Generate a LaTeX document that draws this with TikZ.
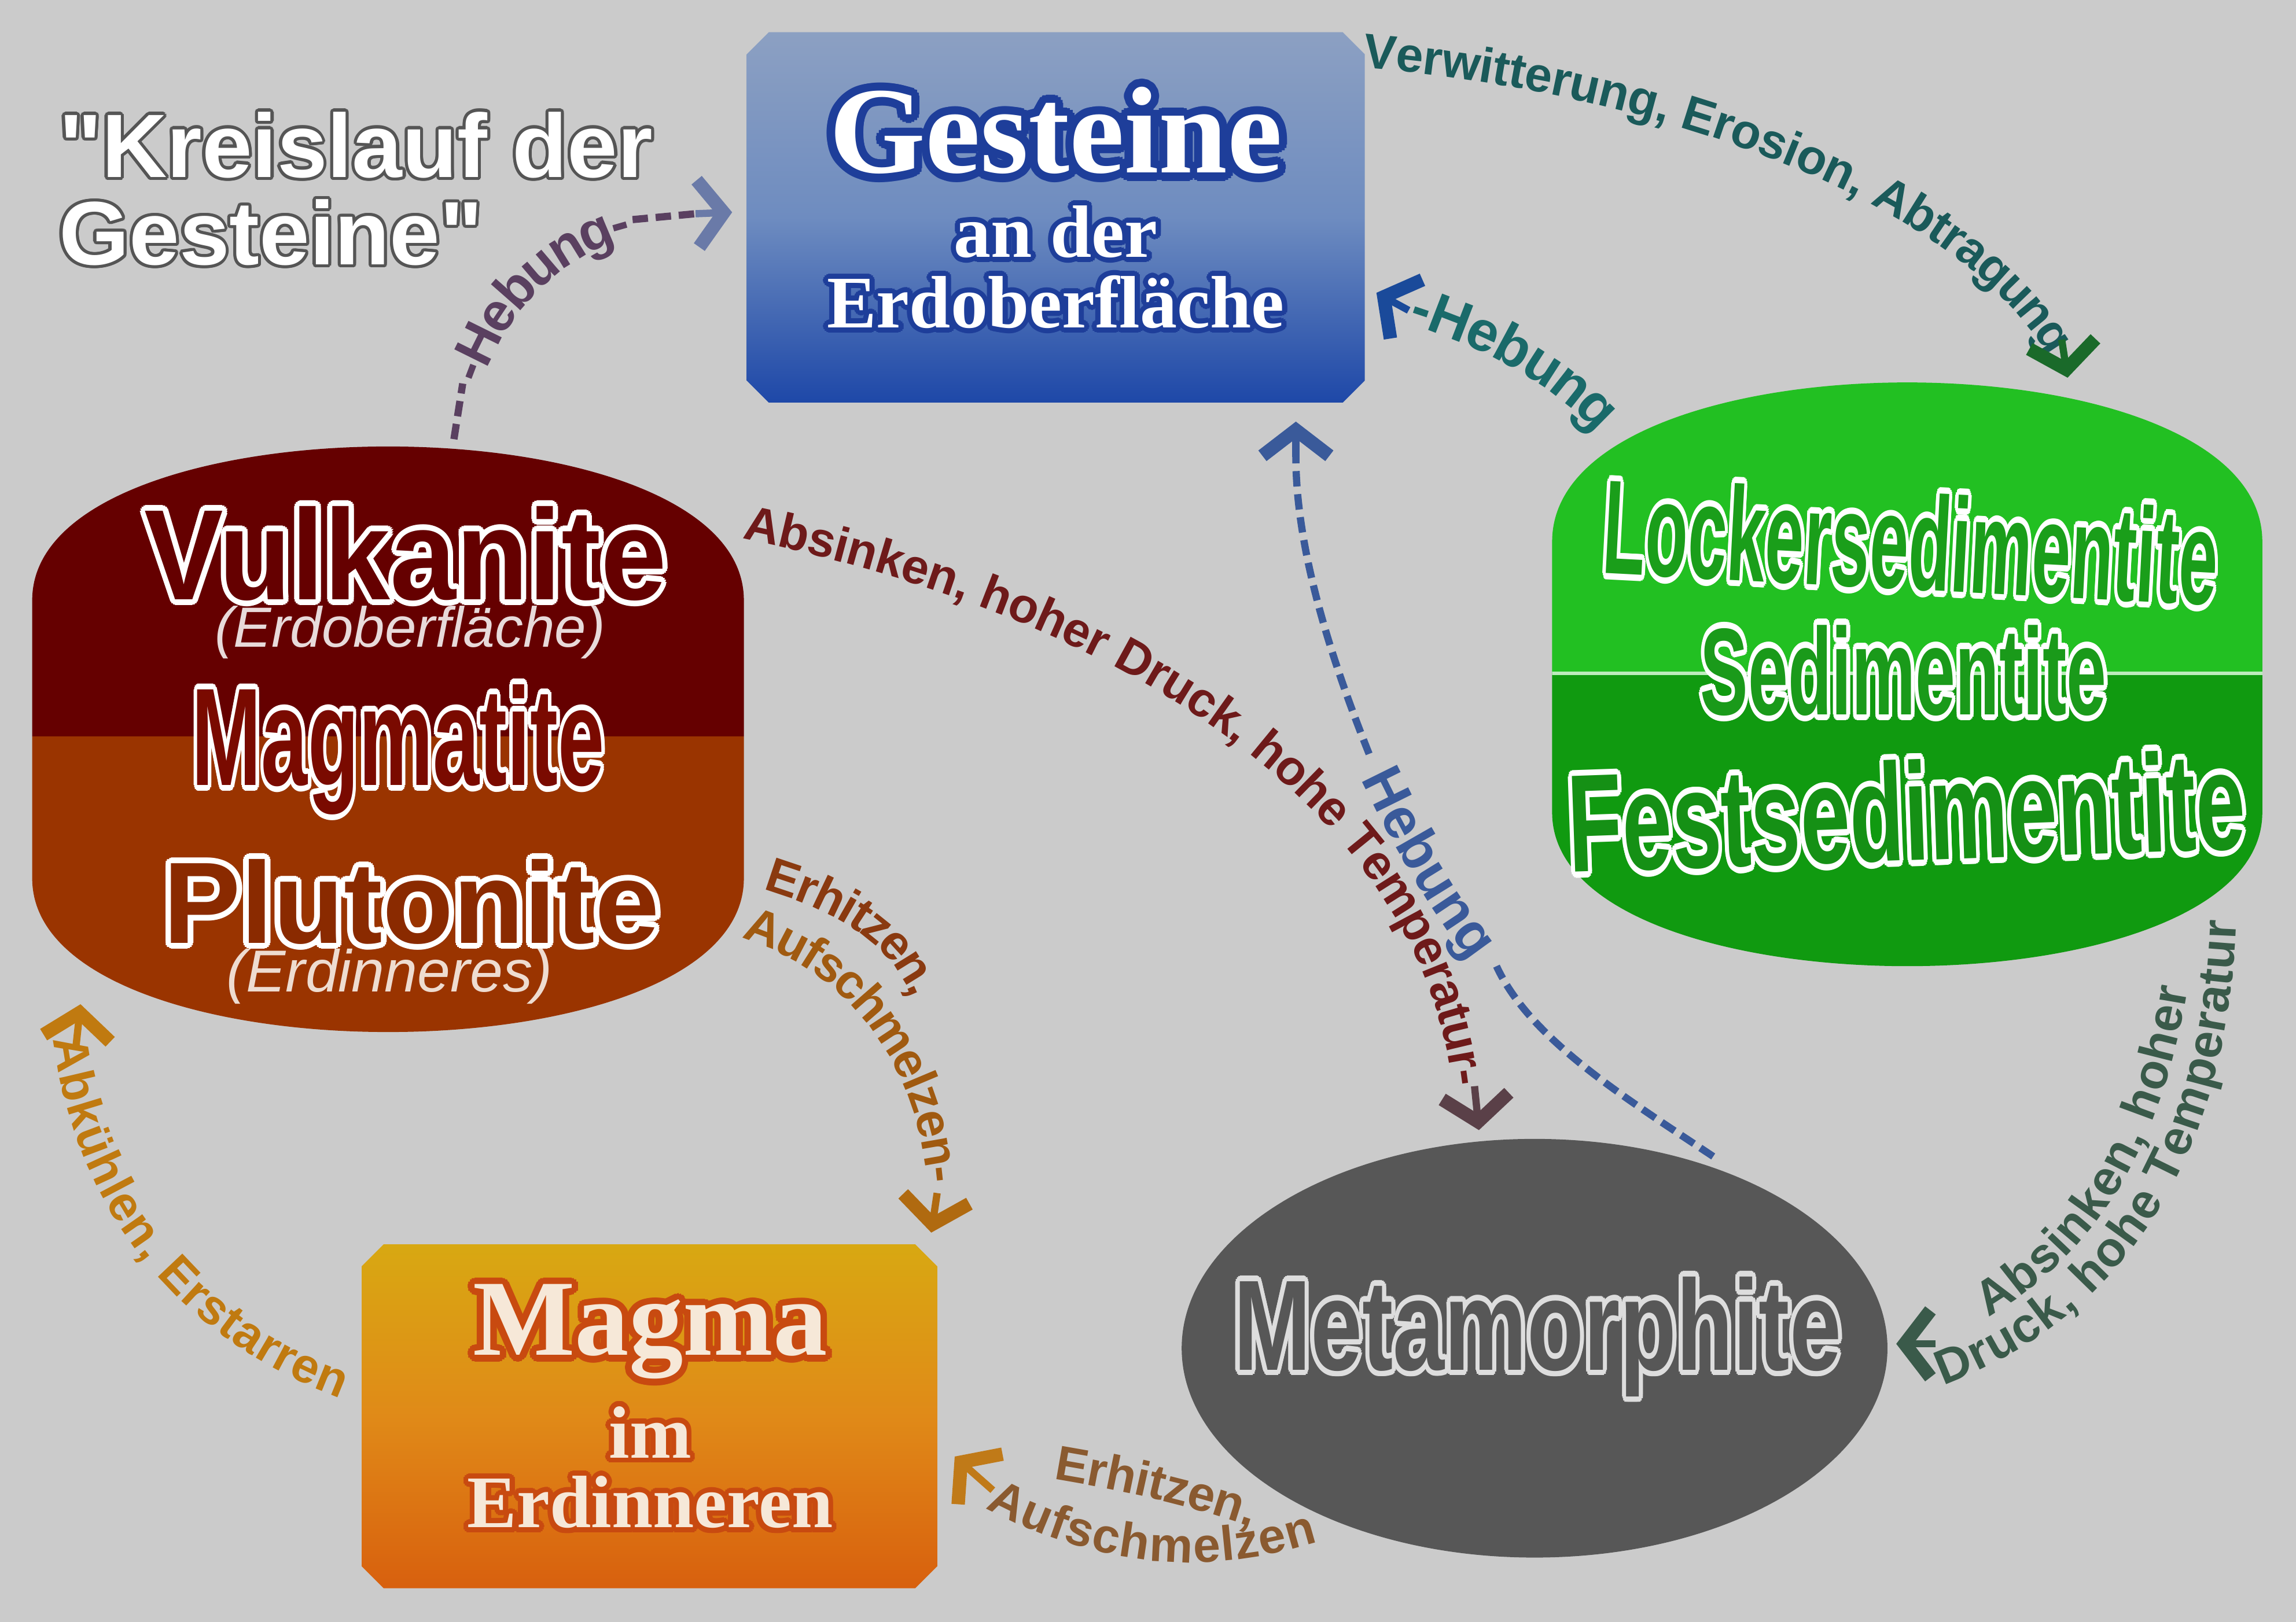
\documentclass[tikz,border=0pt]{standalone}
\usepackage{fontspec}
\setmainfont{Liberation Serif}
\setsansfont{Liberation Sans}
\newfontfamily\titlef{Liberation Sans}
\usepackage[copies]{contour}
\usetikzlibrary{arrows.meta,decorations.text}
\definecolor{bg}{HTML}{CBCBCB}
\definecolor{vred}{HTML}{650000}
\definecolor{pbrown}{HTML}{9A3400}
\definecolor{gtop}{HTML}{22C022}
\definecolor{gbot}{HTML}{109A10}
\definecolor{meta}{HTML}{575757}
\definecolor{cH1}{HTML}{5A4060}
\definecolor{cVer}{HTML}{1A5A5A}
\definecolor{cH3}{HTML}{1A6A6A}
\definecolor{cAbs}{HTML}{6E1A1A}
\definecolor{cH5}{HTML}{3A5A9A}
\definecolor{cAbs2}{HTML}{3A5A4A}
\definecolor{cErh}{HTML}{8A5A30}
\definecolor{cErh2}{HTML}{8A3A10}
\definecolor{cAbk}{HTML}{C07A10}
\definecolor{gbT}{HTML}{8CA0C2}
\definecolor{gbB}{HTML}{1E48A8}
\definecolor{gbM}{HTML}{6E8CC0}
\definecolor{gline}{HTML}{1E3E9A}
\definecolor{mag2}{HTML}{7A0A00}
\definecolor{plu}{HTML}{8A2A00}
\definecolor{itv}{HTML}{E8DADA}
\definecolor{itp}{HTML}{EEDCD0}
\definecolor{gL}{HTML}{1A9E1A}
\definecolor{gS}{HTML}{1A9A1A}
\definecolor{gF}{HTML}{159015}
\definecolor{lgray}{HTML}{DDDDDD}
\definecolor{mgT}{HTML}{D8A812}
\definecolor{mgB}{HTML}{D8600E}
\definecolor{mgM}{HTML}{E08A18}
\definecolor{mtxt}{HTML}{F6E8D8}
\definecolor{mline}{HTML}{C84A10}
\definecolor{hd1}{HTML}{6A7AA8}
\definecolor{hd2}{HTML}{1A6A2A}
\definecolor{hd3}{HTML}{1A4A9A}
\definecolor{hd4}{HTML}{5A4048}
\definecolor{hd7}{HTML}{C07A18}
\definecolor{cErh3}{HTML}{A05A10}
\definecolor{hd8}{HTML}{B06A10}
\definecolor{tshadow}{HTML}{555555}
\newcommand\lab{\sffamily\bfseries\fontsize{9.5}{10}\selectfont}
\tikzset{
 tip/.style={-{Straight Barb[length=5pt,width=13pt,line width=2.6pt]},line width=1.4pt},
 dsh/.style={line width=1.4pt,dash pattern=on 3pt off 1.5pt},
 txt/.style={decorate,decoration={text along path,text align=center,raise=-3.5pt,text format delimiters={|}{|},text={#1}}},
}
\begin{document}
\begin{tikzpicture}[x=0.01cm,y=-0.01cm]
\useasboundingbox (0,0) rectangle (1568,1108);
\fill[bg] (0,0) rectangle (1568,1108);

% title
\node[anchor=north west,align=left,font=\titlef\bfseries\fontsize{17.5}{17}\selectfont,text=white] (title) at (28,64) {\contourlength{0.6pt}\contour{tshadow}{"Kreislauf der}\\\contourlength{0.6pt}\contour{tshadow}{Gesteine"}};

% Gesteine box
\shade[top color=gbT,bottom color=gbB,middle color=gbM] (525,22) -- (917,22) -- (932,37) -- (932,260) -- (917,275) -- (525,275) -- (510,260) -- (510,37) -- cycle;
\node[font=\bfseries\fontsize{24}{24}\selectfont,text=white] (g1) at (721,92) {\contourlength{1.6pt}\contour{gline}{Gesteine}};
\node[font=\bfseries\fontsize{14.4}{14}\selectfont,text=white] (g2) at (721,160) {\contourlength{1pt}\contour{gline}{an der}};
\node[font=\bfseries\fontsize{14.4}{14}\selectfont,text=white] (g3) at (721,208) {\contourlength{1pt}\contour{gline}{Erdoberfläche}};

% Magmatite shape
\begin{scope}
\clip (22,410) .. controls (22,270) and (508,270) .. (508,410) -- (508,600) .. controls (508,740) and (22,740) .. (22,600) -- cycle;
\fill[vred] (0,0) rectangle (600,503);
\fill[pbrown] (0,503) rectangle (600,800);
\end{scope}
\node[font=\sffamily\bfseries\fontsize{25}{25}\selectfont,text=vred] (vul) at (277,380) {\scalebox{0.92}[1]{\contourlength{1.1pt}\contour{white}{Vulkanite}}};
\node[font=\sffamily\itshape\fontsize{11}{11}\selectfont,text=itv] (vul2) at (280,432) {(Erdoberfläche)};
\node[font=\sffamily\bfseries\fontsize{27}{27}\selectfont,text=mag2] (mag) at (272,514) {\scalebox{0.6}[1]{\contourlength{1.1pt}\contour{white}{Magmatite}}};
\node[font=\sffamily\bfseries\fontsize{22.5}{22}\selectfont,text=plu] (plu) at (281,618) {\contourlength{1.1pt}\contour{white}{Plutonite}};
\node[font=\sffamily\itshape\fontsize{11.5}{11}\selectfont,text=itp] (plu2) at (266,667) {(Erdinneres)};

% Sediment shape
\begin{scope}
\clip (1060,370) .. controls (1060,225) and (1545,225) .. (1545,370) -- (1545,555) .. controls (1545,695) and (1060,695) .. (1060,555) -- cycle;
\fill[gtop] (1000,200) rectangle (1600,460);
\fill[gbot] (1000,460) rectangle (1600,700);
\draw[white!70!gtop,line width=0.6pt] (1000,460) -- (1600,460);
\end{scope}
\node[font=\sffamily\bfseries\fontsize{26}{26}\selectfont,text=gL,rotate=-3] (lock) at (1305,372) {\scalebox{0.52}[1]{\contourlength{1.2pt}\contour{white}{Lockersedimentite}}};
\node[font=\sffamily\bfseries\fontsize{24}{24}\selectfont,text=gS] (sed) at (1300,460) {\scalebox{0.58}[1]{\contourlength{1.2pt}\contour{white}{Sedimentite}}};
\node[font=\sffamily\bfseries\fontsize{27}{27}\selectfont,text=gF,rotate=2] (fest) at (1302,556) {\scalebox{0.64}[1]{\contourlength{1.2pt}\contour{white}{Festsedimentite}}};

% Metamorphite
\fill[meta] (1048,921) ellipse [x radius=241,y radius=143];
\node[font=\sffamily\bfseries\fontsize{25}{25}\selectfont,text=meta] (met) at (1050,915) {\scalebox{0.72}[1]{\contourlength{1.1pt}\contour{lgray}{Metamorphite}}};

% Magma box
\shade[top color=mgT,bottom color=mgB,middle color=mgM] (262,850) -- (625,850) -- (640,865) -- (640,1070) -- (625,1085) -- (262,1085) -- (247,1070) -- (247,865) -- cycle;
\node[font=\bfseries\fontsize{21}{21}\selectfont,text=mtxt] (m1) at (444,912) {\contourlength{1.3pt}\contour{mline}{Magma}};
\node[font=\bfseries\fontsize{14.4}{14}\selectfont,text=mtxt] (m2) at (444,980) {\contourlength{1pt}\contour{mline}{im}};
\node[font=\bfseries\fontsize{14.4}{14}\selectfont,text=mtxt] (m3) at (444,1028) {\contourlength{1pt}\contour{mline}{Erdinneren}};

% ---- connectors ----
% 1 Hebung (left)
\coordinate (a1) at (310,300); \coordinate (a1b) at (316,262); \coordinate (a1c) at (432,150); \coordinate (a1m) at (475,146); \coordinate (a1d) at (500,145);
\draw[dsh,cH1] (a1) -- (a1b);
\path[txt={|\lab\fontsize{10.5}{11}\selectfont\color{cH1}|-Hebung-}] (a1b) .. controls (338,195) and (385,160) .. (a1c);
\draw[dsh,cH1] (a1c) -- (a1m);
\draw[tip,hd1] (a1m) -- (a1d);

% 2 Verwitterung
\coordinate (a2) at (945,35); \coordinate (a2m) at (1408,232); \coordinate (a2e) at (1412,258);
\path[txt={|\lab\color{cVer}|Verwitterung, Erosion, Abtragung-}] (a2) .. controls (1150,55) and (1345,130) .. (1408,235);
\draw[tip,hd2] (a2m) -- (a2e);

% 3 Hebung teal
\coordinate (a3) at (940,200); \coordinate (a3m) at (962,212); \coordinate (a3e) at (1108,298);
\draw[tip,hd3] (a3m) -- (a3);
\path[txt={|\lab\fontsize{11}{11}\selectfont\color{cH3}|-Hebung}] (952,205) .. controls (1020,225) and (1075,255) .. (a3e);

% 4 Absinken (long)
\coordinate (a4) at (505,355); \coordinate (a4m) at (1007,742); \coordinate (a4e) at (1010,772);
\path[txt={|\lab\color{cAbs}|Absinken, hoher Druck, hohe Temperatur-}] (a4) .. controls (800,415) and (985,560) .. (1005,745);
\draw[tip,hd4] (a4m) -- (a4e);

% 5 Hebung blue
\coordinate (a5) at (1170,790); \coordinate (a5b) at (1022,660); \coordinate (a5c) at (935,515); \coordinate (a5m) at (885,312); \coordinate (a5e) at (885,288);
\draw[dsh,cH5] (a5) .. controls (1110,750) and (1045,710) .. (a5b);
\path[txt={|\lab\fontsize{11}{11}\selectfont\color{cH5}|Hebung}] (a5c) .. controls (960,570) and (990,620) .. (a5b);
\draw[dsh,cH5] (a5c) .. controls (905,440) and (885,370) .. (a5m);
\draw[tip,cH5] (a5m) -- (a5e);

% 6 Absinken right
\coordinate (a6m) at (1322,918); \coordinate (a6e) at (1295,918);
\path[txt={|\lab\color{cAbs2}|Absinken, hoher}] (1350,890) .. controls (1420,850) and (1465,780) .. (1482,672);
\path[txt={|\lab\color{cAbs2}|Druck, hohe Temperatur}] (1322,935) .. controls (1445,890) and (1510,780) .. (1515,628);
\draw[tip,cAbs2] (a6m) -- (a6e);

% 7 Erhitzen bottom
\coordinate (a7m) at (678,1018); \coordinate (a7e) at (652,995);
\path[txt={|\lab\color{cErh}|Erhitzen,}] (720,998) .. controls (780,1008) and (820,1018) .. (860,1032);
\path[txt={|\lab\color{cErh}|Aufschmelzen}] (680,1020) .. controls (760,1062) and (830,1062) .. (895,1042);
\draw[tip,hd7] (a7m) -- (a7e);

% 8 Erhitzen left
\coordinate (a8m) at (640,815); \coordinate (a8e) at (636,842);
\path[txt={|\lab\color{cErh2}|Erhitzen,}] (512,592) .. controls (585,612) and (625,640) .. (638,690);
\path[txt={|\lab\color{cErh3}|Aufschmelzen-}] (506,628) .. controls (585,650) and (640,720) .. (646,812);
\draw[tip,hd8] (a8m) -- (a8e);

% 9 Abkuehlen
\coordinate (a9m) at (52,714); \coordinate (a9e) at (55,686);
\path[txt={|\lab\color{cAbk}|Abkühlen, Erstarren}] (48,705) .. controls (62,820) and (130,905) .. (240,945);
\draw[tip,cAbk] (a9m) -- (a9e);
\end{tikzpicture}
\end{document}
